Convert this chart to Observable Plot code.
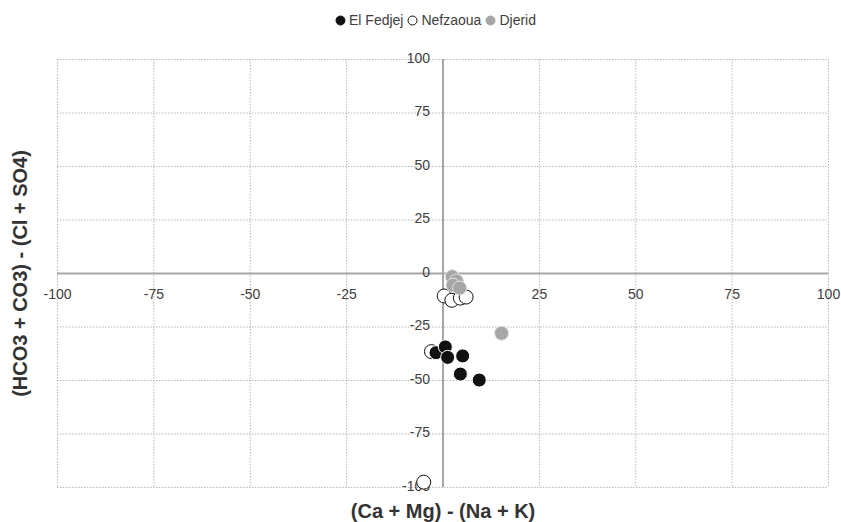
<!DOCTYPE html>
<html><head><meta charset="utf-8">
<script src="https://cdn.jsdelivr.net/npm/d3@7"></script>
<script src="https://cdn.jsdelivr.net/npm/@observablehq/plot@0.6"></script>
<style>
body{margin:0;background:#fff;font-family:"Liberation Sans",Arial,sans-serif;}
#legend{height:40px;display:flex;justify-content:center;align-items:center;font-size:14px;color:#404040;padding-left:30px;box-sizing:border-box;width:841px;}
#legend span.item{display:inline-flex;align-items:center;margin:0 2px;}
#legend svg{margin-right:3px;}
</style></head><body>
<div id="legend"></div><div id="chart"></div>
<script>
const seriesNames = ["El Fedjej", "Nefzaoua", "Djerid"];
const elFedjejX = [-1.8, 0.6, 1.2, 5.1, 4.5, 9.4];
const elFedjejY = [-37.0, -34.3, -39.2, -38.5, -47.0, -49.8];
const nefzaouaX = [0.3, 2.3, 4.5, 6.0, -3.0, -5.0];
const nefzaouaY = [-10.5, -12.5, -11.5, -11.0, -36.5, -97.5];
const djeridX = [2.4, 3.5, 2.6, 4.3, 15.2];
const djeridY = [-1.5, -3.5, -5.5, -6.8, -27.9];
const tickValues = [-100, -75, -50, -25, 0, 25, 50, 75, 100];
const xTitle = "(Ca + Mg) - (Na + K)";
const yTitle = "(HCO3 + CO3) - (Cl + SO4)";

const zip = (xs, ys) => xs.map((x, i) => ({x, y: ys[i]}));
const elFedjej = zip(elFedjejX, elFedjejY);
const nefzaoua = zip(nefzaouaX, nefzaouaY);
const djerid = zip(djeridX, djeridY);

const styles = [
  {fill: "#111", stroke: "#fff"},
  {fill: "#fff", stroke: "#111"},
  {fill: "#a6a6a6", stroke: "#e0e0e0"}
];

// legend
const legend = document.getElementById("legend");
seriesNames.forEach((name, i) => {
  const s = document.createElement("span");
  s.className = "item";
  const st = styles[i];
  s.innerHTML = `<svg width="11" height="11"><circle cx="5.5" cy="5.5" r="4.5" fill="${st.fill}" stroke="${i===1 ? '#111' : st.fill}" stroke-width="1"/></svg>${name}`;
  legend.appendChild(s);
});

const chart = Plot.plot({
  width: 841,
  height: 482,
  marginTop: 19,
  marginBottom: 35,
  marginLeft: 57,
  marginRight: 13,
  style: {fontFamily: '"Liberation Sans", Arial, sans-serif', fontSize: "14px", background: "#fff"},
  x: {domain: [-100, 100], axis: null},
  y: {domain: [-100, 100], axis: null},
  marks: [
    Plot.ruleX(tickValues, {stroke: "#b8b8b8", strokeDasharray: "1.5,1.5"}),
    Plot.ruleY(tickValues, {stroke: "#b8b8b8", strokeDasharray: "1.5,1.5"}),
    Plot.ruleX([0], {stroke: "#a6a6a6", strokeWidth: 2}),
    Plot.ruleY([0], {stroke: "#a6a6a6", strokeWidth: 2}),
    Plot.text(tickValues, {x: d => d, y: () => 0, dy: 21, text: d => String(d), fill: "#404040", fontSize: 14}),
    Plot.text(tickValues, {x: () => 0, y: d => d, dx: -13, dy: -1, textAnchor: "end", text: d => String(d), fill: "#404040", fontSize: 14}),
    Plot.dot(nefzaoua, {x: "x", y: "y", r: 7, fill: styles[1].fill, stroke: styles[1].stroke, strokeWidth: 1}),
    Plot.dot(elFedjej, {x: "x", y: "y", r: 7, fill: styles[0].fill, stroke: styles[0].stroke, strokeWidth: 1}),
    Plot.dot(djerid, {x: "x", y: "y", r: 7, fill: styles[2].fill, stroke: styles[2].stroke, strokeWidth: 1}),
    Plot.text([xTitle], {frameAnchor: "bottom", dy: 24, lineAnchor: "middle", text: d => d, fontWeight: "bold", fontSize: 20, fill: "#333"}),
    Plot.text([yTitle], {frameAnchor: "left", dx: -37, rotate: -90, textAnchor: "middle", lineAnchor: "middle", text: d => d, fontWeight: "bold", fontSize: 20, fill: "#333"})
  ]
});
document.getElementById("chart").appendChild(chart);
</script>
</body></html>
